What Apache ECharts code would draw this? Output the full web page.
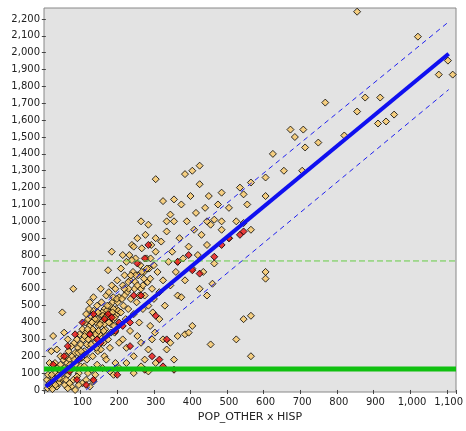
<!DOCTYPE html><html><head><meta charset="utf-8"><script src="https://cdn.jsdelivr.net/npm/echarts@6/dist/echarts.min.js"></script></head><body style="margin:0;background:#fff"><div id="c" style="width:466px;height:431px"></div><script>
const xName='POP_OTHER x HISP';
const orangePts=[[5,10],[8,30],[12,20],[15,50],[18,5],[20,70],[22,40],[25,100],[28,60],[30,20],[32,130],[35,90],[38,50],[40,150],[42,110],[45,70],[48,180],[50,130],[52,30],[55,200],[58,160],[60,90],[62,230],[65,180],[68,120],[70,260],[72,200],[75,60],[78,280],[80,220],[82,150],[85,300],[88,250],[90,100],[92,330],[95,270],[98,190],[100,360],[10,160],[15,230],[20,320],[45,460],[75,600],[50,340],[60,300],[30,240],[40,200],[100,40],[110,60],[120,20],[90,30],[70,20],[60,10],[130,50],[80,0],[3,60],[6,90],[10,40],[25,160],[35,40],[55,60],[65,40],[85,80],[95,140],
[102,300],[105,230],[108,400],[110,340],[112,180],[115,420],[118,260],[120,380],[122,440],[125,310],[128,200],[130,470],[132,350],[135,280],[138,400],[140,500],[142,230],[145,380],[148,450],[150,320],[152,520],[155,410],[158,280],[160,480],[162,360],[165,560],[168,430],[170,300],[172,580],[175,460],[178,390],[180,620],[182,520],[185,420],[188,340],[190,600],[192,480],[195,650],[198,380],[200,550],[105,140],[115,100],[125,120],[140,150],[160,200],[175,250],[190,160],[200,280],[170,710],[180,820],[150,600],[130,550],[110,450],[120,520],[140,420],[160,390],[185,480],[195,450],[150,240],[165,180],[135,90],[155,130],[175,110],[185,90],[200,130],[112,270],[128,360],[146,330],[166,470],[184,550],[196,520],[118,480],[136,330],[154,460],[172,400],
[106,320],[114,360],[124,270],[134,420],[144,350],[156,440],[164,320],[174,500],[186,380],[194,540],[126,400],[142,460],[162,430],[178,340],[108,210],[138,250],[158,350],[182,460],[198,470],[116,300],[148,390],[168,500],[188,430],[78,180],[88,220],[66,150],[56,120],[46,100],[96,230],[36,70],[26,30],[16,90],
[205,720],[210,620],[212,500],[215,680],[218,420],[220,760],[222,580],[225,480],[228,800],[230,650],[232,540],[235,860],[238,700],[240,450],[242,600],[245,780],[248,520],[250,900],[252,680],[255,400],[258,740],[260,600],[262,840],[265,480],[268,700],[270,560],[272,920],[275,780],[278,640],[280,500],[282,720],[285,380],[288,860],[290,600],[292,460],[295,740],[298,340],[300,820],[210,300],[220,250],[230,350],[240,200],[250,320],[260,280],[270,180],[280,240],[290,300],[300,160],[220,160],[240,100],[260,140],[280,110],[210,800],[235,770],[260,1000],[280,980],[300,900],[240,850],[205,460],[215,560],[225,640],[245,680],[255,560],[265,620],[285,660],[295,540],[208,540],[226,600],[244,640],[262,700],[276,720],[214,600],[232,680],[250,620],[268,660],[286,780],
[305,700],[310,580],[315,880],[320,650],[325,500],[330,940],[335,760],[340,620],[345,820],[350,1000],[355,700],[360,560],[365,900],[370,1100],[375,780],[380,650],[385,1000],[390,850],[395,1150],[400,720],[405,950],[410,1050],[415,800],[420,1220],[425,920],[430,700],[435,1080],[440,860],[445,1150],[450,980],[310,420],[320,300],[330,240],[340,280],[350,180],[360,320],[370,550],[380,330],[390,340],[400,380],[420,600],[440,560],[455,630],[460,750],[450,270],[330,1000],[350,1130],[380,1280],[400,1300],[420,1330],[300,1250],[320,1120],[340,1040],[360,760],[440,1000],[460,1010],[470,1100],[480,950],[500,900],[520,1000],[530,1200],[550,1100],[480,1170],
[540,420],[560,440],[560,200],[600,700],[600,660],[520,300],[600,1150],[600,1260],[650,1300],[620,1400],[700,1300],[680,1500],[560,1230],[540,1160],[500,1080],[560,950],[540,990],[480,1000],
[850,2243],[1016,2095],[1098,1953],[1073,1870],[1111,1870],[763,1704],[872,1734],[913,1734],[850,1651],[951,1633],[907,1580],[929,1592],[815,1509],[703,1544],[744,1467],[708,1438],[668,1544]];
const redPts=[[20,150],[50,200],[60,260],[80,330],[90,180],[100,400],[120,330],[130,450],[140,300],[150,280],[160,420],[170,450],[180,430],[190,350],[195,90],[110,30],[130,60],[200,400],[210,380],[230,400],[240,560],[250,750],[260,560],[270,780],[280,860],[290,200],[300,440],[310,180],[330,300],[350,120],[360,760],[390,800],[420,690],[400,710],[460,790],[480,860],[500,900],[530,920],[540,940],[65,110],[85,60],[230,260],[270,120],[320,140]];
const fitLine=[[0,20],[1100,1994]];
const upperBand=[[0,230],[1100,2183]];
const lowerBand=[[110,0],[1100,1781]];
const meanY=765, threshY=125;
const fmt=v=>Number(v).toLocaleString('en-US');
const ch=echarts.init(document.getElementById('c'));
const sym=(data,color)=>({type:'scatter',data,symbol:'diamond',symbolSize:7,itemStyle:{color,borderColor:'#000',borderWidth:1},z:3});
ch.setOption({animation:false,
grid:{left:44,right:10,top:8,bottom:39,show:true,backgroundColor:'#e3e3e3',borderColor:'#888',borderWidth:1},
xAxis:{type:'value',min:-5,max:1120,interval:100,name:xName,nameLocation:'middle',nameGap:20,nameTextStyle:{fontFamily:'DejaVu Sans',fontSize:11,color:'#222'},
 axisLine:{show:false},axisTick:{show:true,length:4,lineStyle:{color:'#444'}},splitLine:{show:false},
 axisLabel:{fontFamily:'DejaVu Sans',fontSize:10,color:'#222',margin:5,formatter:v=>v<0?'':fmt(v),showMinLabel:false,customValues:[0,100,200,300,400,500,600,700,800,900,1000,1100]}},
yAxis:{type:'value',min:-12,max:2265,splitLine:{show:false},axisLine:{show:false},axisTick:{show:true,length:4,lineStyle:{color:'#444'},customValues:Array.from({length:23},(_,i)=>i*100)},
 axisLabel:{fontFamily:'DejaVu Sans',fontSize:10,color:'#222',margin:4,formatter:fmt,customValues:Array.from({length:23},(_,i)=>i*100)}},
series:[sym(orangePts,'#f9c866'),sym(redPts,'#e81010'),
{type:'line',data:fitLine,symbol:'none',lineStyle:{color:'#1010f0',width:4},z:5},
{type:'line',data:upperBand,symbol:'none',lineStyle:{color:'#2020f0',width:1,type:[5,4]},z:5},
{type:'line',data:lowerBand,symbol:'none',lineStyle:{color:'#2020f0',width:1,type:[5,4]},z:5},
{type:'line',data:[[-5,meanY],[1120,meanY]],symbol:'none',lineStyle:{color:'#66cc44',width:1,type:[6,3]},z:4},
{type:'line',data:[[-5,threshY],[1120,threshY]],symbol:'none',lineStyle:{color:'#10c010',width:5},z:4}]});
</script></body></html>
